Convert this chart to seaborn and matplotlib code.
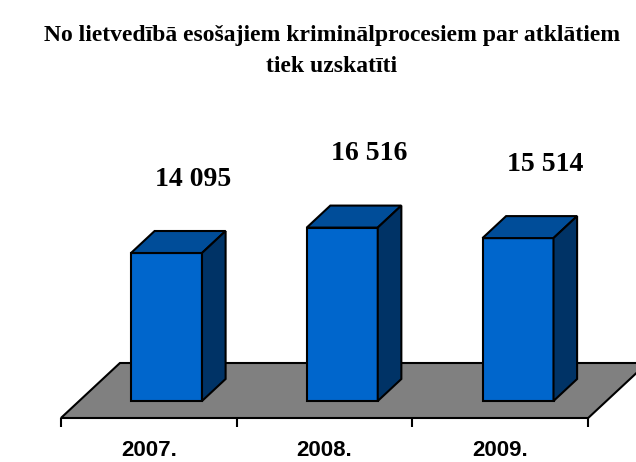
import matplotlib
matplotlib.use("Agg")
import matplotlib.pyplot as plt
import seaborn as sns
import pandas as pd
from matplotlib.patches import Polygon

# ---- data ----
years = ["2007.", "2008.", "2009."]
values = [14095, 16516, 15514]
value_labels = ["14 095", "16 516", "15 514"]
title_lines = ["No lietvedībā esošajiem kriminālprocesiem par atklātiem", "tiek uzskatīti"]

df = pd.DataFrame({"year": years, "value": values})

sns.set_style("white")
plt.rcParams["text.color"] = "black"
plt.rcParams["xtick.color"] = "black"
plt.rcParams["xtick.labelcolor"] = "black"

W, H = 636, 462
fig = plt.figure(figsize=(W / 100, H / 100), dpi=100)

# layout (pixels)
floor_front_px = 418          # y of floor front edge (from top)
base_lift = 17                # bar base above floor front edge
cat_px = 175.75               # pixels per category
first_center_px = 166.5
scale = 0.0105                # px per value unit
depth_dx, depth_dy = 59, 55   # floor depth in px
bar_front_frac, bar_back_frac = 0.3, 0.7

ax = fig.add_axes([0, (H - floor_front_px) / H, 1, floor_front_px / H])

sns.barplot(data=df, x="year", y="value", color="#0066CC", saturation=1,
            width=71 / cat_px, edgecolor="black", linewidth=1.5, ax=ax, zorder=3)
ax.set_xlim(-first_center_px / cat_px, (W - first_center_px) / cat_px)
ax.set_ylim(-base_lift / scale, (floor_front_px - base_lift) / scale)

# depth in data units
ddx_full = depth_dx / cat_px
ddy_full = depth_dy / scale
shift_x = bar_front_frac * ddx_full
bar_ddx = (bar_back_frac - bar_front_frac) * ddx_full
bar_ddy = (bar_back_frac - bar_front_frac) * ddy_full
floor_y0 = -base_lift / scale
floor_y1 = floor_y0 + ddy_full

# floor
n = len(years)
fl = -0.5 - shift_x
fr = n - 0.5 - shift_x
ax.add_patch(Polygon([(fl, floor_y0), (fr, floor_y0), (fr + ddx_full, floor_y1),
                      (fl + ddx_full, floor_y1)], closed=True, facecolor="#808080",
                     edgecolor="black", linewidth=1.5, zorder=1, clip_on=False))

# 3D faces for bars
for p, lab in zip(list(ax.patches)[:n], value_labels):
    x0, w, h = p.get_x(), p.get_width(), p.get_height()
    top = [(x0, h), (x0 + w, h), (x0 + w + bar_ddx, h + bar_ddy), (x0 + bar_ddx, h + bar_ddy)]
    side = [(x0 + w, 0), (x0 + w + bar_ddx, bar_ddy), (x0 + w + bar_ddx, h + bar_ddy), (x0 + w, h)]
    ax.add_patch(Polygon(top, closed=True, facecolor="#004D99", edgecolor="black",
                         linewidth=1.5, zorder=4))
    ax.add_patch(Polygon(side, closed=True, facecolor="#003366", edgecolor="black",
                         linewidth=1.5, zorder=4))
    ax.text(x0 + w / 2 + 27 / cat_px, h + 74 / scale, lab, ha="center", va="center",
            family="Liberation Serif", fontweight="bold", fontsize=20, color="black", zorder=5)

# ticks on front edge
for s in ax.spines.values():
    s.set_visible(False)
ax.set_yticks([])
ax.set_xticks([i - 0.5 - shift_x for i in range(n + 1)])
ax.set_xticklabels([])
ax.set_xticks([i - shift_x for i in range(n)], minor=True)
ax.set_xticklabels(years, minor=True, family="Liberation Sans", fontweight="bold",
                   fontsize=16, color="black")
ax.tick_params(axis="x", which="major", direction="out", length=6.5, width=1.5,
               color="black", bottom=True)
ax.tick_params(axis="x", which="minor", length=0, pad=16)
ax.set_xlabel("")
ax.set_ylabel("")

fig.text(332 / W, 1 - 35 / H, title_lines[0], ha="center", va="center",
         family="Liberation Serif", fontweight="bold", fontsize=17, color="black")
fig.text(332 / W, 1 - 67 / H, title_lines[1], ha="center", va="center",
         family="Liberation Serif", fontweight="bold", fontsize=17, color="black")

fig.savefig("out.png", dpi=100)
